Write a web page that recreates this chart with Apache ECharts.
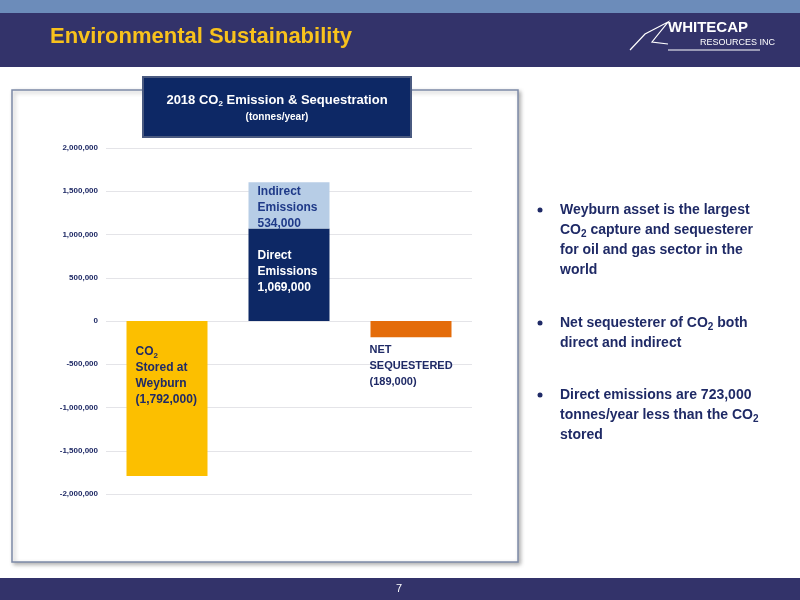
<!DOCTYPE html>
<html>
<head>
<meta charset="utf-8">
<script src="https://cdn.jsdelivr.net/npm/echarts@6/dist/echarts.min.js"></script>
<style>
html, body { margin: 0; padding: 0; background: #fff; }
#main { width: 800px; height: 600px; }
</style>
</head>
<body>
<div id="main"></div>
<script>
var categories = ['Stored', 'Emissions', 'Net'];
var storedValues = [-1792000, null, null];
var directValues = [null, 1069000, null];
var indirectValues = [null, 534000, null];
var netValues = [null, null, -189000];
var yTicks = [-2000000, 2000000, 500000];

var dom = document.getElementById('main');
var myChart = echarts.init(dom, null, { renderer: 'canvas' });

var font = 'Arial, "Liberation Sans", sans-serif';
var sub = { fontSize: 8, fontWeight: 'bold', padding: [8, 0, 0, 0], fontFamily: font };

function bulletText(x, y, lines) {
    return {
        type: 'text', x: x, y: y,
        style: {
            text: lines.join('\n'),
            rich: { s: { fontSize: 10, fontWeight: 'bold', fill: '#1f2a66', padding: [8, 0, 0, 0], fontFamily: font } },
            font: 'bold 14px ' + font, fill: '#1f2a66', lineHeight: 20
        }
    };
}
function bullet(y) {
    return { type: 'circle', shape: { cx: 540, cy: y + 10, r: 2.5 }, style: { fill: '#1f2a66' } };
}

var option = {
    animation: false,
    graphic: [
        { type: 'rect', shape: { x: 0, y: 0, width: 800, height: 13 }, style: { fill: '#6c8cba' } },
        { type: 'rect', shape: { x: 0, y: 13, width: 800, height: 54 }, style: { fill: '#33336a' } },
        { type: 'text', x: 50, y: 26, style: { text: 'Environmental Sustainability', font: 'bold 22px ' + font, fill: '#f8c21c' } },
        { type: 'text', x: 668, y: 20, style: { text: 'WHITECAP', font: 'bold 15px ' + font, fill: '#fff' } },
        { type: 'text', x: 700, y: 38, style: { text: 'RESOURCES INC', font: '9px ' + font, fill: '#fff' } },
        { type: 'line', shape: { x1: 668, y1: 50, x2: 760, y2: 50 }, style: { stroke: '#fff', lineWidth: 1 } },
        { type: 'polyline', shape: { points: [[630, 50], [645, 34], [668, 22], [652, 42], [668, 44]] }, style: { stroke: '#fff', fill: null, lineWidth: 1.2 } },
        { type: 'rect', shape: { x: 12, y: 90, width: 506, height: 472 }, style: { fill: '#fff', stroke: '#7d8aa8', lineWidth: 1.5, shadowBlur: 4, shadowColor: 'rgba(0,0,0,0.3)', shadowOffsetX: 2, shadowOffsetY: 2 } },
        { type: 'rect', shape: { x: 143, y: 77, width: 268, height: 60 }, style: { fill: '#0d2865', stroke: '#4a5a80', lineWidth: 2 }, z: 10 },
        { type: 'text', x: 277, y: 92, z: 11, style: { text: '2018 CO{s|2} Emission & Sequestration', align: 'center', rich: { s: { fontSize: 8, fontWeight: 'bold', fill: '#fff', padding: [8, 0, 0, 0] } }, font: 'bold 13px ' + font, fill: '#fff' } },
        { type: 'text', x: 277, y: 112, z: 11, style: { text: '(tonnes/year)', align: 'center', font: 'bold 10px ' + font, fill: '#fff' } },
        bullet(200),
        bulletText(560, 200, ['Weyburn asset is the largest', 'CO{s|2} capture and sequesterer', 'for oil and gas sector in the', 'world']),
        bullet(313),
        bulletText(560, 313, ['Net sequesterer of CO{s|2} both', 'direct and indirect']),
        bullet(385),
        bulletText(560, 385, ['Direct emissions are 723,000', 'tonnes/year less than the CO{s|2}', 'stored']),
        { type: 'rect', shape: { x: 0, y: 578, width: 800, height: 22 }, style: { fill: '#33336a' } },
        { type: 'text', x: 396, y: 583, style: { text: '7', font: '11px ' + font, fill: '#fff' } }
    ],
    grid: { left: 106, right: 328, top: 148, bottom: 106 },
    xAxis: {
        type: 'category', data: categories,
        axisLabel: { show: false },
        axisLine: { show: false },
        axisTick: { show: false }
    },
    yAxis: {
        type: 'value', min: yTicks[0], max: yTicks[1], interval: yTicks[2],
        axisLabel: {
            fontSize: 8, fontWeight: 'bold', color: '#1f2a66', fontFamily: font,
            formatter: function (v) { return v.toLocaleString('en-US'); }
        },
        axisLine: { show: false },
        splitLine: { lineStyle: { color: '#e4e4e8' } }
    },
    series: [
        {
            type: 'bar', stack: 'a', data: storedValues, barWidth: 81,
            itemStyle: { color: '#fcbf00' },
            label: {
                show: true, position: 'insideTopLeft', offset: [4, 18],
                formatter: 'CO{s|2}\nStored at\nWeyburn\n(1,792,000)',
                color: '#1f2a66', fontSize: 12, fontWeight: 'bold', lineHeight: 16, fontFamily: font,
                rich: { s: sub }
            }
        },
        {
            type: 'bar', stack: 'a', data: directValues, barWidth: 81,
            itemStyle: { color: '#0d2865' },
            label: {
                show: true, position: 'insideTopLeft', offset: [4, 14],
                formatter: 'Direct\nEmissions\n1,069,000',
                color: '#fff', fontSize: 12, fontWeight: 'bold', lineHeight: 16, fontFamily: font
            }
        },
        {
            type: 'bar', stack: 'a', data: indirectValues, barWidth: 81,
            itemStyle: { color: '#b7cde6' },
            label: {
                show: true, position: 'insideTopLeft', offset: [4, -4],
                formatter: 'Indirect\nEmissions\n534,000',
                color: '#1f3a88', fontSize: 12, fontWeight: 'bold', lineHeight: 16, fontFamily: font
            }
        },
        {
            type: 'bar', stack: 'a', data: netValues, barWidth: 81,
            itemStyle: { color: '#e46c0a' },
            label: {
                show: true, position: 'insideBottomLeft', offset: [-6, 58],
                formatter: 'NET\nSEQUESTERED\n(189,000)',
                color: '#1f2a66', fontSize: 11, fontWeight: 'bold', lineHeight: 16, fontFamily: font
            }
        }
    ]
};

myChart.setOption(option);
</script>
</body>
</html>
